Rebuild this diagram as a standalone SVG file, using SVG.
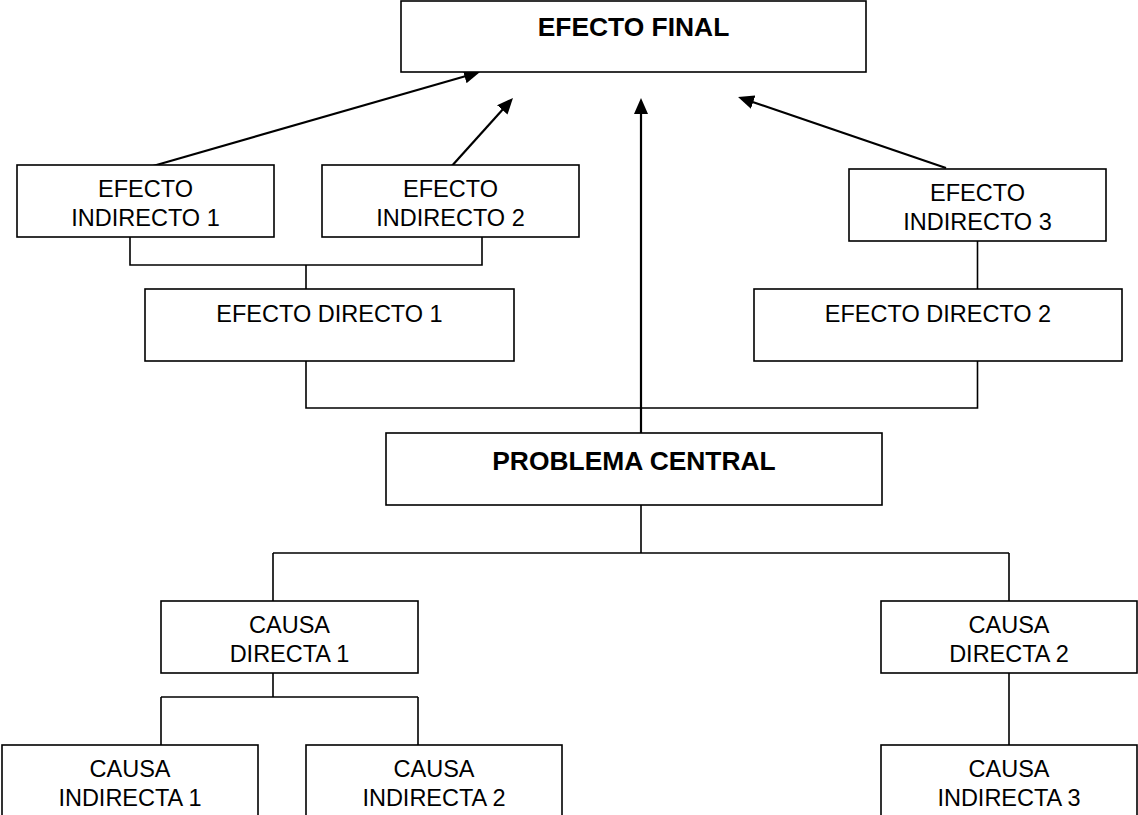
<svg xmlns="http://www.w3.org/2000/svg" width="1138" height="815" viewBox="0 0 1138 815">
<style>
.box{fill:#fff;stroke:#000;stroke-width:1.6}
.t{font-family:"Liberation Sans",Arial,sans-serif;font-size:23.5px;fill:#000;text-anchor:middle}
.b{font-family:"Liberation Sans",Arial,sans-serif;font-size:26.4px;font-weight:bold;fill:#000;text-anchor:middle}
.c{fill:none;stroke:#000;stroke-width:1.6}
.a{fill:none;stroke:#000;stroke-width:2.2;marker-end:url(#ah)}
</style>
<defs>
<marker id="ah" viewBox="0 0 16 14" refX="6" refY="7" markerWidth="16" markerHeight="14" markerUnits="userSpaceOnUse" orient="auto">
<path d="M0,0 L16,7 L0,14 z" fill="#000"/>
</marker>
</defs>
<rect width="1138" height="815" fill="#fff"/>
<g id="connectors">
<path class="c" d="M130,237 V265 H482 V237 M306,265 V289"/>
<path class="c" d="M977.5,241 V289"/>
<path class="c" d="M306,361 V408 H977.5 V361"/>
<path class="c" d="M641,505 V553 M273,553 H1009 M273,553 V601 M1009,553 V601"/>
<path class="c" d="M273,673 V697 M161,697 H418 M161,697 V745 M418,697 V745"/>
<path class="c" d="M1009,673 V745"/>
<line class="a" x1="146" y1="168" x2="470.4" y2="74.8"/>
<line class="a" x1="450" y1="168" x2="506.3" y2="105.4"/>
<line class="a" x1="641" y1="433" x2="641" y2="108"/>
<line class="a" x1="946" y1="168" x2="747.5" y2="100.2"/>
</g>
<g id="efecto-final">
<rect class="box" x="401" y="1" width="465" height="71"/>
<text class="b" x="633.5" y="36">EFECTO FINAL</text>
</g>
<g id="efecto-indirecto-1">
<rect class="box" x="17" y="165" width="257" height="72"/>
<text class="t" x="145.5" y="197">EFECTO</text>
<text class="t" x="145.5" y="226">INDIRECTO 1</text>
</g>
<g id="efecto-indirecto-2">
<rect class="box" x="322" y="165" width="257" height="72"/>
<text class="t" x="450.5" y="197">EFECTO</text>
<text class="t" x="450.5" y="226">INDIRECTO 2</text>
</g>
<g id="efecto-indirecto-3">
<rect class="box" x="849" y="169" width="257" height="72"/>
<text class="t" x="977.5" y="201">EFECTO</text>
<text class="t" x="977.5" y="230">INDIRECTO 3</text>
</g>
<g id="efecto-directo-1">
<rect class="box" x="145" y="289" width="369" height="72"/>
<text class="t" x="329.5" y="322">EFECTO DIRECTO 1</text>
</g>
<g id="efecto-directo-2">
<rect class="box" x="754" y="289" width="368" height="72"/>
<text class="t" x="938" y="322">EFECTO DIRECTO 2</text>
</g>
<g id="problema-central">
<rect class="box" x="386" y="433" width="496" height="72"/>
<text class="b" x="634" y="470">PROBLEMA CENTRAL</text>
</g>
<g id="causa-directa-1">
<rect class="box" x="161" y="601" width="257" height="72"/>
<text class="t" x="289.5" y="633">CAUSA</text>
<text class="t" x="289.5" y="662">DIRECTA 1</text>
</g>
<g id="causa-directa-2">
<rect class="box" x="881" y="601" width="256" height="72"/>
<text class="t" x="1009" y="633">CAUSA</text>
<text class="t" x="1009" y="662">DIRECTA 2</text>
</g>
<g id="causa-indirecta-1">
<rect class="box" x="2" y="745" width="256" height="80"/>
<text class="t" x="130" y="777">CAUSA</text>
<text class="t" x="130" y="806">INDIRECTA 1</text>
</g>
<g id="causa-indirecta-2">
<rect class="box" x="306" y="745" width="256" height="80"/>
<text class="t" x="434" y="777">CAUSA</text>
<text class="t" x="434" y="806">INDIRECTA 2</text>
</g>
<g id="causa-indirecta-3">
<rect class="box" x="881" y="745" width="256" height="80"/>
<text class="t" x="1009" y="777">CAUSA</text>
<text class="t" x="1009" y="806">INDIRECTA 3</text>
</g>
</svg>
